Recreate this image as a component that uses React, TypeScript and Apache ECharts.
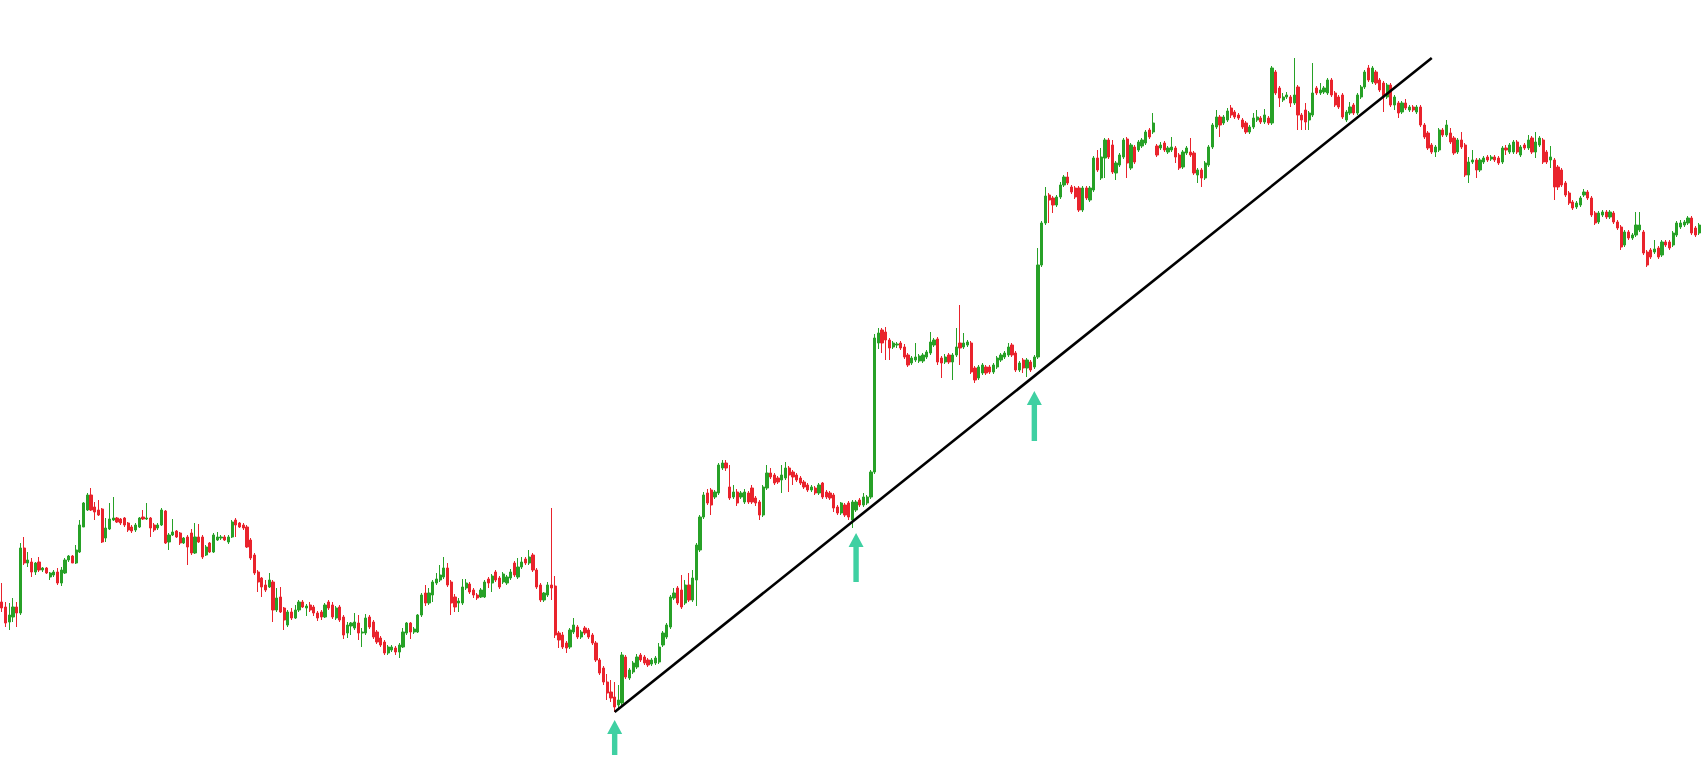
import { useEffect, useRef } from "react";
import * as echarts from "echarts";

// Candle values (price units)
const opens = [
  172,167,152,157,167,161,226,211,212,202, 212,204,206,197,199,202,191,201,214,218,
  211,222,247,264,279,267,264,265,236,245, 254,256,255,256,251,247,244,247,257,255,
  256,249,246,249,263,232,239,243,241,231, 237,241,221,237,237,219,231,222,234,236,
  237,232,237,254,251,249,247,234,219,202, 196,189,187,192,164,177,166,149,162,156,
  164,172,166,169,167,161,162,157,172,169, 156,167,157,141,148,146,151,141,141,157,
  152,142,136,132,121,124,126,122,127,141, 151,142,142,159,181,171,179,191,194,197,
  206,192,177,171,171,186,190,184,179,177, 177,195,191,202,196,192,191,196,211,197,
  207,215,211,219,204,189,174,179,189,188, 141,139,131,127,142,147,137,146,144,139,
  131,114,106,92,82,77,69,71,117,96, 102,107,119,117,114,110,111,112,129,137,
  147,176,186,184,171,189,174,194,224,257, 281,284,277,281,306,311,287,277,282,277,
  272,281,286,276,272,259,286,301,299,296, 294,296,306,302,299,296,292,289,284,286,
  281,291,282,281,279,267,261,269,271,254, 264,274,269,271,277,302,431,444,442,434,
  427,429,431,427,419,411,414,413,413,417, 421,429,435,416,412,419,412,419,431,427,
  429,431,406,396,401,407,407,402,407,414, 417,419,429,421,404,414,406,412,407,417,
  509,551,579,576,569,577,589,597,587,586, 586,564,586,574,584,616,596,616,634,629,
  601,609,617,635,606,627,624,628,631,644, 642,628,626,631,622,624,626,619,607,621,
  622,621,599,604,596,609,627,647,657,651, 654,666,662,659,654,651,642,647,654,656,
  652,656,651,702,686,674,677,677,671,687, 659,664,654,659,686,681,682,681,694,681,
  677,679,654,661,669,661,677,687,706,692, 702,694,691,677,689,669,671,662,671,664,
  667,662,667,649,641,629,622,624,644,639, 641,636,622,634,629,599,612,614,604,612,
  617,615,617,616,612,626,622,622,632,619, 629,626,636,622,629,634,622,614,614,607,
  604,591,581,572,567,569,579,582,576,561, 552,559,562,557,561,552,547,529,542,536,
  539,544,542,522,524,522,526,519,532,532, 529,539,547,549,551,556,546,541,
];

const closes = [
  166,151,159,167,161,226,211,214,202,211, 204,206,201,201,202,191,204,214,218,211,
  224,249,271,279,264,262,259,232,246,255, 256,252,251,249,244,243,249,256,255,256,
  246,244,249,264,231,239,242,237,231,236, 227,221,237,232,217,227,222,239,237,237,
  234,237,252,249,247,246,227,216,201,192, 187,184,194,164,176,162,154,162,156,164,
  172,167,168,164,161,156,157,169,166,157, 166,154,139,149,151,152,141,142,156,147,
  137,132,129,121,127,127,122,129,142,151, 142,145,159,179,171,181,192,195,199,206,
  189,171,167,173,187,191,182,179,176,184, 192,191,198,194,187,200,197,202,199,207,
  212,211,217,204,187,174,181,189,186,139, 134,127,126,144,149,137,142,141,137,131,
  114,101,92,81,76,67,74,119,97,104, 111,117,114,111,109,114,116,127,141,149,
  177,181,171,167,189,174,196,229,257,279, 271,269,282,309,311,306,276,282,271,281,
  282,272,272,271,259,287,301,297,291,292, 299,306,299,297,294,291,287,284,287,281,
  289,277,277,276,266,261,271,259,257,272, 272,269,277,277,302,436,441,431,434,426,
  431,430,426,417,409,416,417,418,419,422, 432,434,412,411,417,412,419,427,426,431,
  432,402,394,407,409,401,402,409,416,419, 421,427,419,404,411,406,414,404,417,509,
  551,578,574,569,577,589,597,591,582,577, 564,586,576,586,616,604,617,634,617,602,
  611,619,634,611,629,612,632,634,642,637, 651,619,629,624,626,627,617,606,622,626,
  619,601,604,596,611,627,649,657,649,657, 663,659,657,656,647,642,647,656,657,652,
  659,651,706,681,676,677,679,671,679,659, 654,652,661,681,681,684,686,694,679,669,
  667,657,662,667,661,679,687,702,694,706, 691,684,677,689,669,677,661,671,666,667,
  664,667,649,637,626,622,627,644,639,649, 632,621,634,627,599,612,614,604,614,616,
  614,617,614,611,626,624,629,632,622,627, 626,634,622,632,636,612,612,617,587,587,
  589,579,571,566,571,576,582,576,559,551, 561,562,557,562,552,546,527,542,536,539,
  549,549,521,509,517,525,517,532,529,526, 541,551,551,552,556,541,539,549,
];

const lows = [
  162,147,144,152,147,159,209,207,197,199, 202,202,200,194,197,189,188,200,212,211,
  210,221,247,263,263,254,258,231,232,244, 253,251,249,247,242,241,242,246,254,254,
  237,242,244,248,230,224,238,236,229,230, 209,219,220,231,215,218,221,221,233,234,
  233,230,236,237,246,244,226,214,199,182, 177,182,186,152,162,161,144,147,154,155,
  162,166,158,162,158,153,154,156,164,155, 154,152,135,136,139,144,134,127,139,145,
  135,130,127,119,119,122,119,116,126,139, 135,140,141,157,168,169,172,189,192,195,
  187,159,162,162,169,184,180,176,174,176, 176,186,182,192,185,190,189,194,197,195,
  205,209,209,202,185,172,172,177,174,136, 126,125,121,125,140,135,135,139,135,129,
  112,99,89,74,72,62,66,69,95,94, 100,105,112,109,107,108,109,110,127,135,
  145,174,169,165,169,172,172,168,222,255, 269,259,275,279,304,303,274,275,268,275,
  270,270,270,268,254,257,284,295,289,290, 281,294,282,289,292,289,285,282,282,279,
  279,275,275,274,262,259,259,257,254,246, 262,267,267,269,275,300,425,421,414,414,
  425,426,424,415,407,409,412,411,411,415, 419,427,409,396,410,410,394,417,409,425,
  427,400,391,394,399,399,400,400,405,412, 415,417,417,402,402,401,397,402,405,415,
  507,549,551,561,567,575,587,589,580,575, 562,562,574,572,582,602,594,596,615,600,
  594,607,615,596,604,610,622,626,629,635, 640,617,624,622,620,622,611,604,605,619,
  617,599,591,587,594,607,625,645,637,649, 652,656,655,654,645,640,640,645,652,650,
  650,649,649,679,667,672,675,667,669,644, 644,644,644,657,679,679,680,679,677,667,
  665,655,652,659,659,659,675,685,692,690, 689,682,662,675,667,664,656,660,664,662,
  662,660,647,635,624,620,617,622,637,637, 630,619,620,625,597,591,610,596,602,610,
  612,613,612,609,610,619,620,620,620,617, 624,624,620,616,627,610,610,606,574,584,
  587,577,569,564,565,567,577,574,557,549, 550,557,555,555,550,544,524,527,534,534,
  537,542,519,507,515,520,515,517,527,524, 527,537,545,547,549,539,537,539,
];

const highs = [
  191,172,171,176,172,231,237,222,216,212, 217,207,207,202,204,206,207,216,219,219,
  229,254,272,281,286,272,274,266,256,271, 277,257,256,257,252,249,251,257,264,271,
  257,251,251,266,264,241,255,244,242,237, 239,245,251,250,239,229,232,241,242,239,
  239,239,254,256,252,251,249,236,221,204, 197,194,201,194,186,187,167,164,166,169,
  174,174,170,172,169,163,164,171,174,172, 168,169,159,152,152,161,159,146,160,159,
  154,144,138,134,129,129,128,131,146,152, 152,147,160,181,189,186,194,201,209,217,
  211,194,180,176,195,195,192,186,181,186, 194,197,200,204,198,202,199,205,213,216,
  217,217,224,221,206,191,182,192,266,198, 143,142,133,146,156,149,144,148,146,141,
  133,116,108,100,94,92,89,122,119,106, 113,120,121,119,116,116,118,131,143,151,
  179,186,188,199,194,201,204,231,259,282, 285,286,284,311,314,314,309,289,285,283,
  285,283,289,278,274,289,309,306,301,298, 309,312,308,304,301,298,294,291,289,288,
  291,292,284,283,281,269,272,271,273,274, 274,276,281,279,304,440,446,446,447,436,
  433,432,433,430,421,418,431,420,421,424, 442,436,437,418,420,421,421,446,469,441,
  434,433,408,409,411,409,409,411,418,421, 423,431,431,423,413,416,416,414,419,526,
  553,587,581,578,579,592,599,602,589,588, 588,588,588,588,618,624,626,636,636,634,
  613,621,636,637,631,629,634,636,644,646, 661,630,632,633,628,637,628,621,624,628,
  636,623,606,606,613,629,651,664,659,659, 666,669,664,661,656,653,649,661,664,658,
  665,658,708,704,688,681,682,679,716,689, 661,671,663,711,688,691,688,696,696,683,
  679,681,664,672,671,681,689,704,709,708, 704,696,693,691,691,679,673,673,675,669,
  669,669,669,651,643,631,629,646,646,654, 646,638,636,642,631,617,624,616,616,618,
  619,619,619,618,628,629,631,634,634,629, 631,639,638,642,638,636,624,628,616,609,
  606,593,583,574,573,578,585,584,578,563, 563,564,564,564,563,554,549,544,544,541,
  562,562,544,524,526,534,528,534,534,534, 543,553,554,554,558,558,548,551,
];

// Trendline anchors: [candle index, price]
const trendStart = [165, 62];
const trendEnd = [385, 716];

// Arrow annotations: candle index and price at the arrow tip
const arrowIndices = [165, 230, 278];
const arrowTips = [54, 241, 383];
const arrowLengths = [35, 49, 50];

const arrowPath = (len: number) =>
  `path://M7.5,0 L15,14 L10.2,14 L10.2,${len} L4.8,${len} L4.8,14 L0,14 Z`;

export default function App() {
  const ref = useRef<HTMLDivElement>(null);

  useEffect(() => {
    if (!ref.current) return;
    const chart = echarts.init(ref.current, null, { renderer: "svg" });
    const data = opens.map((o, i) => [o, closes[i], lows[i], highs[i]]);
    const categories = opens.map((_, i) => String(i + 1));

    chart.setOption({
      animation: false,
      backgroundColor: "#ffffff",
      grid: { left: 0, right: 0, top: 0, bottom: 0 },
      xAxis: {
        type: "category",
        data: categories,
        show: false,
        boundaryGap: true,
      },
      yAxis: {
        type: "value",
        min: 0,
        max: 774,
        show: false,
        splitLine: { show: false },
      },
      series: [
        {
          type: "candlestick",
          data,
          barWidth: 2.7,
          itemStyle: {
            color: "#27a127",
            color0: "#e9232c",
            borderColor: "#27a127",
            borderColor0: "#e9232c",
            borderWidth: 1,
          },
          markLine: {
            silent: true,
            symbol: ["none", "none"],
            label: { show: false },
            lineStyle: { color: "#000000", width: 2.6, type: "solid" },
            data: [[{ coord: trendStart }, { coord: trendEnd }]],
          },
          markPoint: {
            silent: true,
            label: { show: false },
            data: arrowIndices.map((idx, i) => ({
              coord: [idx, arrowTips[i]],
              symbol: arrowPath(arrowLengths[i]),
              symbolSize: [15, arrowLengths[i]],
              symbolOffset: [0, arrowLengths[i] / 2],
              itemStyle: { color: "#3fd0a2" },
            })),
          },
        },
      ],
    });

    return () => chart.dispose();
  }, []);

  return (
    <div
      ref={ref}
      style={{ position: "fixed", left: 0, top: 0, width: 1701, height: 774 }}
    />
  );
}
